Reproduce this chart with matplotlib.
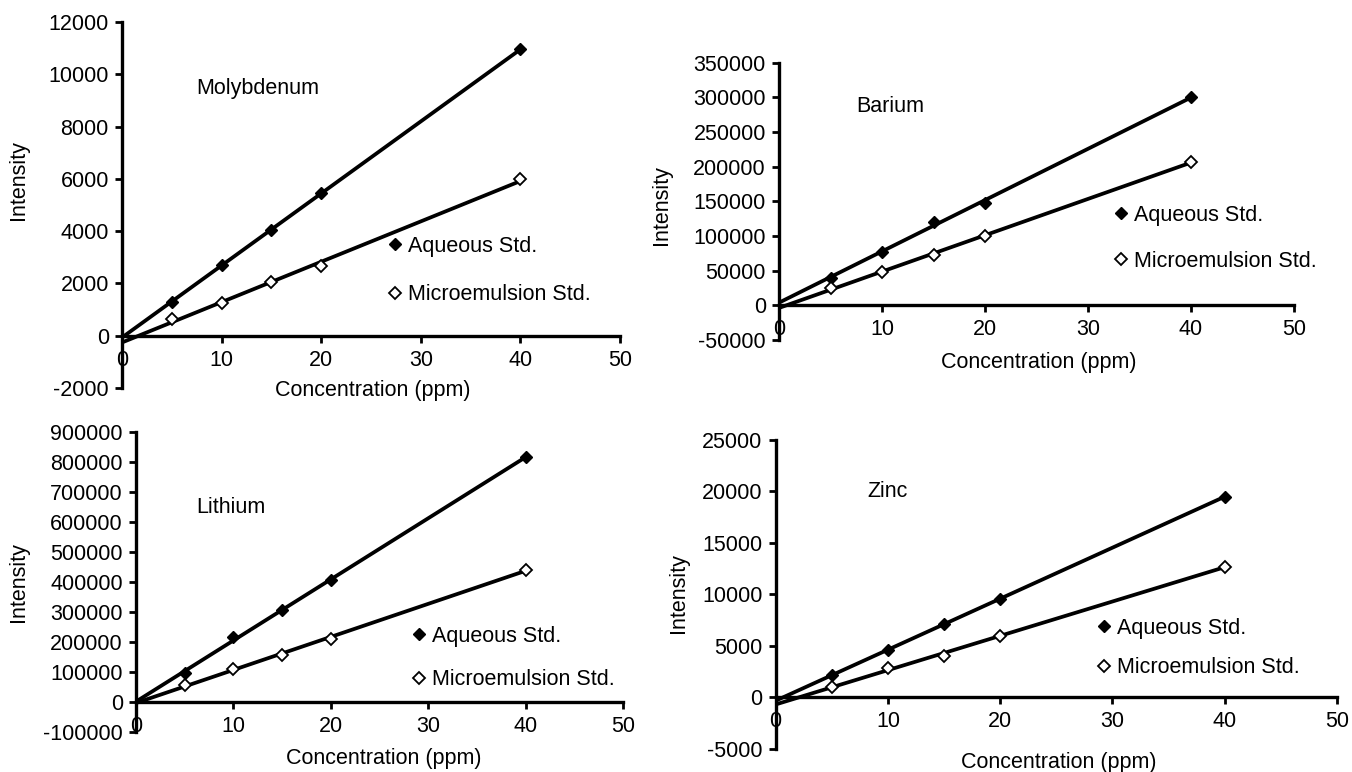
import numpy as np
import matplotlib
matplotlib.use("Agg")
import matplotlib.pyplot as plt
from matplotlib.ticker import MultipleLocator, FormatStrFormatter

plt.rcParams['font.family'] = ['Liberation Sans', 'DejaVu Sans']
plt.rcParams['axes.unicode_minus'] = False

# concentrations of the standards (ppm)
conc = [5, 10, 15, 20, 40]

# intensities
mo_aqueous = [1300, 2700, 4050, 5450, 10950]
mo_micro = [650, 1250, 2050, 2650, 6000]
ba_aqueous = [40000, 77000, 120000, 148000, 300000]
ba_micro = [25000, 48000, 73000, 100000, 207000]
li_aqueous = [95000, 215000, 305000, 405000, 815000]
li_micro = [55000, 110000, 155000, 210000, 440000]
zn_aqueous = [2200, 4600, 7100, 9600, 19500]
zn_micro = [1000, 2900, 4000, 6000, 12700]

elements = ["Molybdenum", "Barium", "Lithium", "Zinc"]

FS = 15.5

fig = plt.figure(figsize=(13.52, 7.72), dpi=100)

# panel settings: axes rect, y range, tick step, element label pos, legend pos, legend spacing, label pos
panels = [
    dict(rect=[0.0902, 0.4974, 0.3684, 0.4741], ylim=(-2000, 12000), step=2000,
         aq=mo_aqueous, mi=mo_micro, name_xy=(7.5, 9450), leg=(0.537, 0.321), spacing=1.28,
         ylab=(0.0135, 0.767), xlab=(0.504, -0.006)),
    dict(rect=[0.5762, 0.5596, 0.3809, 0.3592], ylim=(-50000, 350000), step=50000,
         aq=ba_aqueous, mi=ba_micro, name_xy=(7.5, 287000), leg=(0.654, 0.367), spacing=1.17,
         ylab=(0.4895, 0.735), xlab=(0.505, -0.08)),
    dict(rect=[0.1006, 0.0522, 0.3602, 0.3886], ylim=(-100000, 900000), step=100000,
         aq=li_aqueous, mi=li_micro, name_xy=(6.2, 648000), leg=(0.570, 0.246), spacing=1.05,
         ylab=(0.0135, 0.246), xlab=(0.509, -0.09)),
    dict(rect=[0.5737, 0.0298, 0.4152, 0.4003], ylim=(-5000, 25000), step=5000,
         aq=zn_aqueous, mi=zn_micro, name_xy=(8.2, 20000), leg=(0.575, 0.327), spacing=0.86,
         ylab=(0.5015, 0.232), xlab=(0.505, -0.045)),
]

xs = np.array(conc)
for name, p in zip(elements, panels):
    ax = fig.add_axes(p['rect'])
    # linear trend lines through the standards
    for series in (p['aq'], p['mi']):
        slope, icpt = np.polyfit(xs, series, 1)
        xfit = np.array([0, 40])
        ax.plot(xfit, slope * xfit + icpt, color='black', lw=2.7, zorder=2)
    ax.plot(conc, p['aq'], linestyle='none', marker='D', markersize=5.8,
            color='black', label='Aqueous Std.', zorder=3)
    ax.plot(conc, p['mi'], linestyle='none', marker='D', markersize=5.8,
            markerfacecolor='white', markeredgecolor='black', markeredgewidth=1.3,
            label='Microemulsion Std.', zorder=3)

    ax.set_xlim(0, 50)
    ax.set_ylim(*p['ylim'])
    ax.xaxis.set_major_locator(MultipleLocator(10))
    ax.yaxis.set_major_locator(MultipleLocator(p['step']))
    ax.yaxis.set_major_formatter(FormatStrFormatter('%d'))
    ax.spines['top'].set_visible(False)
    ax.spines['right'].set_visible(False)
    ax.spines['bottom'].set_position(('data', 0))
    ax.spines['left'].set_linewidth(2.4)
    ax.spines['bottom'].set_linewidth(2.4)
    ax.tick_params(axis='both', direction='out', length=5, width=2, labelsize=FS)
    ax.tick_params(axis='x', pad=5)
    ax.tick_params(axis='y', pad=4.5)

    ax.text(p['name_xy'][0], p['name_xy'][1], name, fontsize=FS, va='center', ha='left')

    ax.set_xlabel("Concentration (ppm)", fontsize=FS)
    ax.xaxis.label.set_va('center')
    ax.xaxis.set_label_coords(*p['xlab'])
    fig.text(p['ylab'][0], p['ylab'][1], "Intensity", rotation=90, fontsize=FS,
             ha='center', va='center')

    ax.legend(loc='center left', bbox_to_anchor=p['leg'], frameon=False, fontsize=FS,
              handlelength=0.5, handletextpad=0.35, borderpad=0, borderaxespad=0,
              labelspacing=p['spacing'], numpoints=1)

fig.savefig("out.png", dpi=100)
